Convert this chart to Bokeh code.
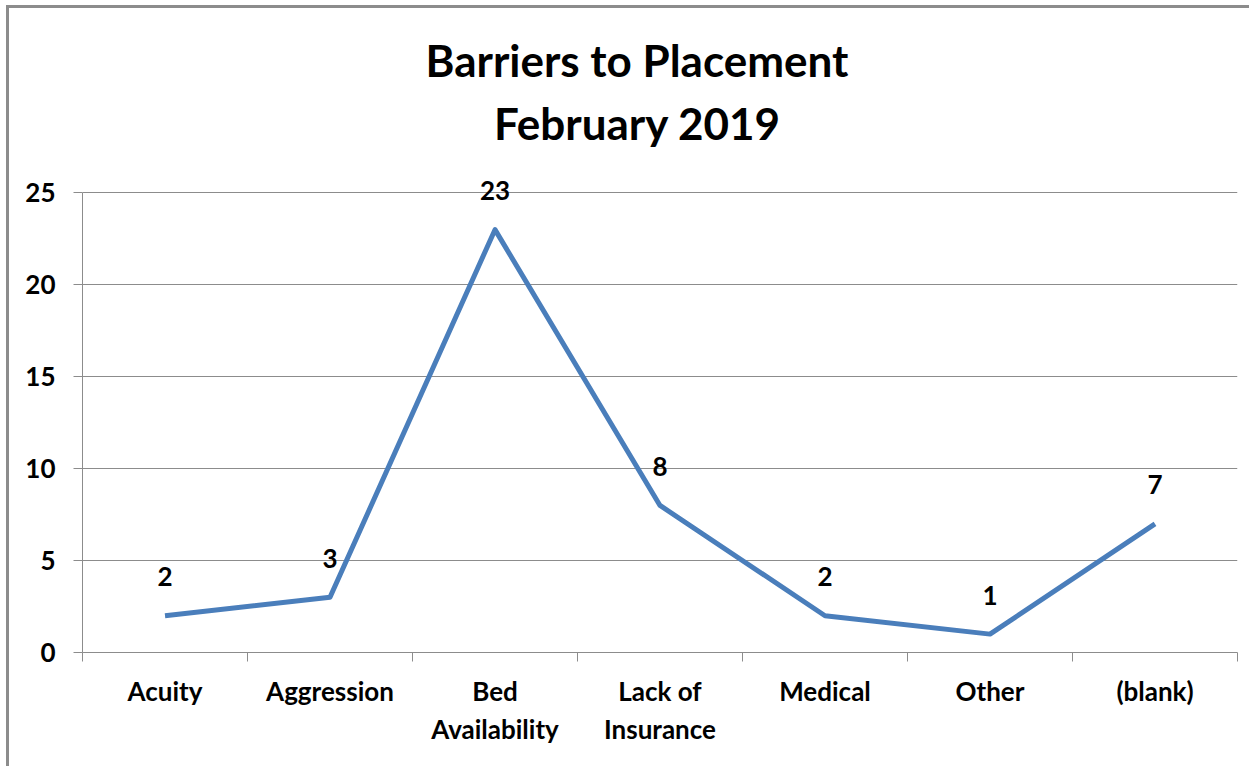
from bokeh.plotting import figure
from bokeh.layouts import column
from bokeh.models import FixedTicker, ColumnDataSource, Range1d, Div
from bokeh.core.properties import value
from bokeh.embed import file_html
from bokeh.resources import INLINE

categories = ["Acuity", "Aggression", "Bed\nAvailability", "Lack of\nInsurance", "Medical", "Other", "(blank)"]
counts = [2, 3, 23, 8, 2, 1, 7]
y_ticks = [0, 5, 10, 15, 20, 25]
title_lines = ["Barriers to Placement", "February 2019"]

FONT = "Lato"
GRID = "#8c8c8c"
LINE = "#4a7ebb"

n = len(categories)
xs = [i + 0.5 for i in range(n)]
src = ColumnDataSource(dict(x=xs, y=counts, lab=[str(c) for c in counts]))

title = Div(text='<div style="display:block;box-sizing:border-box;width:1240px;padding-left:16px;'
                 'text-align:center;font-family:Lato;font-weight:bold;font-size:44px;'
                 'line-height:63px;padding-top:21px;color:black;">' + "<br>".join(title_lines) + "</div>",
            width=1240, height=150, margin=0)

p = figure(width=1240, height=608, output_backend="svg", toolbar_location=None,
           x_range=Range1d(0, n), y_range=Range1d(0, 26), margin=0,
           min_border_left=73, min_border_right=12, min_border_top=16, min_border_bottom=114)
p.title = None
p.outline_line_color = None

# x axis
p.xaxis.ticker = FixedTicker(ticks=xs, minor_ticks=list(range(n + 1)))
p.xaxis.major_label_overrides = {x: c for x, c in zip(xs, categories)}
p.xaxis.major_tick_out = 0
p.xaxis.major_tick_in = 0
p.xaxis.minor_tick_out = 9
p.xaxis.minor_tick_in = 0
p.xaxis.minor_tick_line_color = GRID
p.xaxis.axis_line_color = GRID
p.xaxis.major_label_text_font = FONT
p.xaxis.major_label_text_font_size = "26px"
p.xaxis.major_label_text_font_style = "bold"
p.xaxis.major_label_text_color = "black"
p.xaxis.major_label_standoff = 13

# y axis
p.yaxis.ticker = FixedTicker(ticks=y_ticks)
p.yaxis.bounds = (0, 25)
p.yaxis.minor_tick_line_color = None
p.yaxis.major_tick_out = 9
p.yaxis.major_tick_in = 0
p.yaxis.major_tick_line_color = GRID
p.yaxis.axis_line_color = GRID
p.yaxis.major_label_text_font = FONT
p.yaxis.major_label_text_font_size = "26px"
p.yaxis.major_label_text_font_style = "bold"
p.yaxis.major_label_text_color = "black"
p.yaxis.major_label_standoff = 18

p.xgrid.grid_line_color = None
p.ygrid.grid_line_color = GRID
p.ygrid.grid_line_width = 1

p.line("x", "y", source=src, line_color=LINE, line_width=5, line_join="round")
p.text("x", "y", text="lab", source=src, text_font=value(FONT), text_font_size="26px",
       text_font_style="bold", text_color="black", text_align="center",
       text_baseline="alphabetic", y_offset=-39)

layout = column(title, p, spacing=0)
layout.styles = {"border-top": "3px solid #8c8c8c", "border-left": "3px solid #8c8c8c",
                 "margin-left": "6px", "margin-top": "5px"}

open("out.html", "w").write(file_html(layout, INLINE))
